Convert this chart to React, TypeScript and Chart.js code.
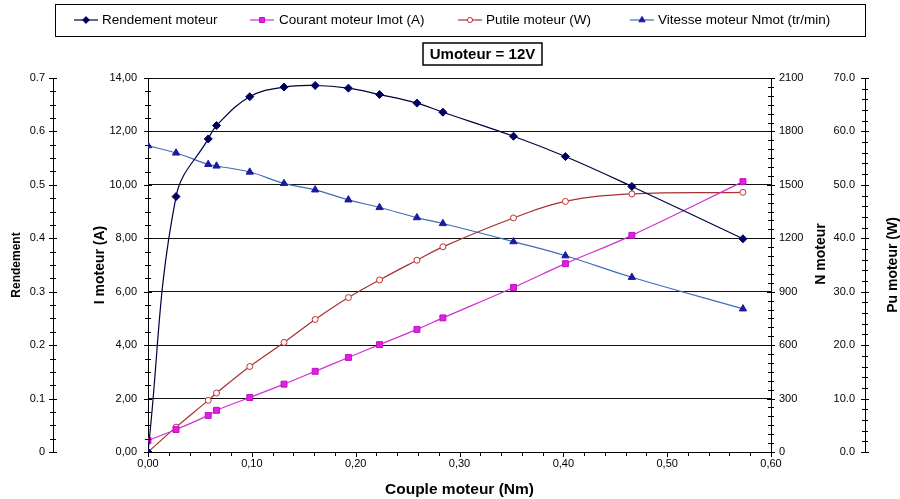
import React, { useEffect, useRef } from 'react';
import { Chart, registerables } from 'chart.js';

Chart.register(...registerables);

// ---- data ----
const couple = [0, 0.027, 0.058, 0.066, 0.098, 0.131, 0.161, 0.193, 0.223, 0.259, 0.284, 0.352, 0.402, 0.466, 0.573];
const rendement = [0, 0.478, 0.586, 0.611, 0.665, 0.683, 0.686, 0.681, 0.669, 0.653, 0.636, 0.591, 0.553, 0.497, 0.399];
const courant = [0.43, 0.84, 1.37, 1.56, 2.04, 2.54, 3.02, 3.54, 4.02, 4.59, 5.02, 6.16, 7.05, 8.11, 10.12];
const putile = [0, 4.65, 9.67, 11.04, 16.0, 20.5, 24.8, 28.9, 32.2, 35.9, 38.4, 43.8, 46.9, 48.3, 48.6];
const vitesse = [1720, 1679, 1615, 1606, 1572, 1508, 1472, 1416, 1373, 1316, 1283, 1181, 1102, 981, 804];

const legendLabels = ['Rendement moteur', 'Courant moteur Imot (A)', 'Putile moteur (W)', 'Vitesse moteur Nmot (tr/min)'];
const boxTitle = 'Umoteur = 12V';
const xTitle = 'Couple moteur (Nm)';
const yTitleR = 'Rendement';
const yTitleI = 'I moteur (A)';
const yTitleN = 'N moteur';
const yTitleP = 'Pu moteur (W)';

const FONT = "'Liberation Sans', Arial, Helvetica, sans-serif";

const seriesStyle = [
  { axis: 'yR', line: '#000040', fill: '#000060', stroke: '#000060', pointStyle: 'rectRot', r: 4 },
  { axis: 'yI', line: '#D030D0', fill: '#E020E0', stroke: '#C010C0', pointStyle: 'rect', r: 4.2 },
  { axis: 'yP', line: '#A83030', fill: '#FFFFFF', stroke: '#C03030', pointStyle: 'circle', r: 3 },
  { axis: 'yN', line: '#3E6DB8', fill: '#1A1AA0', stroke: '#1A1AA0', pointStyle: 'triangle', r: 4.2 },
];
const seriesValues = [rendement, courant, putile, vitesse];

const tickCfg: Record<string, { minor: number; major: number }> = {
  x: { minor: 0.02, major: 0.1 },
  yR: { minor: 0.025, major: 0.1 },
  yI: { minor: 0.5, major: 2 },
  yN: { minor: 50, major: 300 },
  yP: { minor: 2, major: 10 },
};

function drawMarker(ctx: CanvasRenderingContext2D, style: string, x: number, y: number, r: number, fill: string, stroke: string) {
  ctx.beginPath();
  if (style === 'rectRot') {
    ctx.moveTo(x, y - r); ctx.lineTo(x + r, y); ctx.lineTo(x, y + r); ctx.lineTo(x - r, y); ctx.closePath();
  } else if (style === 'rect') {
    const s = r * Math.SQRT1_2;
    ctx.rect(x - s, y - s, 2 * s, 2 * s);
  } else if (style === 'circle') {
    ctx.arc(x, y, r, 0, Math.PI * 2);
  } else {
    ctx.moveTo(x, y - r); ctx.lineTo(x + r * 0.87, y + r * 0.5); ctx.lineTo(x - r * 0.87, y + r * 0.5); ctx.closePath();
  }
  ctx.fillStyle = fill; ctx.fill();
  ctx.strokeStyle = stroke; ctx.lineWidth = 1; ctx.stroke();
}

const tickPlugin = {
  id: 'axisTicks',
  afterDraw(chart: any) {
    const ctx: CanvasRenderingContext2D = chart.ctx;
    ctx.save();
    ctx.strokeStyle = '#000';
    ctx.lineWidth = 1;
    Object.keys(tickCfg).forEach((id) => {
      const sc = chart.scales[id];
      if (!sc) return;
      const { minor, major } = tickCfg[id];
      const n = Math.round((sc.max - sc.min) / minor);
      for (let i = 0; i <= n; i++) {
        const v = sc.min + i * minor;
        const isMajor = Math.abs(v / major - Math.round(v / major)) < 1e-6;
        const p = Math.round(sc.getPixelForValue(v)) + 0.5;
        ctx.beginPath();
        if (id === 'x') {
          const b = Math.round(chart.chartArea.bottom);
          ctx.moveTo(p, b); ctx.lineTo(p, b + (isMajor ? 5 : 4));
        } else {
          const ax = Math.round(sc.position === 'left' ? sc.right : sc.left);
          const len = isMajor ? 4 : 3;
          ctx.moveTo(ax - len, p); ctx.lineTo(ax + len, p);
        }
        ctx.stroke();
      }
    });
    ctx.restore();
  },
};

const decorPlugin = {
  id: 'decor',
  beforeDraw(chart: any) {
    const ctx: CanvasRenderingContext2D = chart.ctx;
    ctx.save();
    ctx.fillStyle = '#fff';
    ctx.fillRect(0, 0, chart.width, chart.height);
    ctx.restore();
  },
  afterDraw(chart: any) {
    const ctx: CanvasRenderingContext2D = chart.ctx;
    ctx.save();
    // legend box
    ctx.strokeStyle = '#000';
    ctx.lineWidth = 1;
    ctx.strokeRect(55.5, 4.5, 810, 32);
    const sampleX = [74, 250, 458, 630];
    const textX = [102, 279, 486, 658];
    const ly = 20;
    ctx.font = `13.5px ${FONT}`;
    ctx.textBaseline = 'middle';
    ctx.textAlign = 'left';
    legendLabels.forEach((lab, i) => {
      const st = seriesStyle[i];
      ctx.strokeStyle = st.line;
      ctx.lineWidth = 1.2;
      ctx.beginPath();
      ctx.moveTo(sampleX[i], ly); ctx.lineTo(sampleX[i] + 24, ly);
      ctx.stroke();
      drawMarker(ctx, st.pointStyle, sampleX[i] + 12, ly, st.r * 0.85, st.fill, st.stroke);
      ctx.fillStyle = '#000';
      ctx.fillText(lab, textX[i], ly);
    });
    // title box
    ctx.strokeStyle = '#000';
    ctx.lineWidth = 1.5;
    ctx.strokeRect(423, 43, 119, 22);
    ctx.font = `bold 15px ${FONT}`;
    ctx.textAlign = 'center';
    ctx.fillStyle = '#000';
    ctx.fillText(boxTitle, 482.5, 54.5);
    // right axis titles (read bottom-to-top)
    const ca = chart.chartArea;
    const midY = (ca.top + ca.bottom) / 2;
    const yN = chart.scales.yN;
    const yP = chart.scales.yP;
    ctx.font = `bold 14px ${FONT}`;
    [[yTitleN, yN.left + 50, midY - 11], [yTitleP, yP.left + 28, midY]].forEach(([t, x, y]: any) => {
      ctx.save();
      ctx.translate(x, y);
      ctx.rotate(-Math.PI / 2);
      ctx.fillText(t, 0, 0);
      ctx.restore();
    });
    ctx.restore();
  },
};

const tickFont = { size: 11, family: FONT };

export default function App() {
  const ref = useRef<HTMLCanvasElement>(null);
  useEffect(() => {
    const canvas = ref.current!;
    const datasets = seriesStyle.map((st, i) => ({
      label: legendLabels[i],
      data: couple.map((x, k) => ({ x, y: seriesValues[i][k] })),
      yAxisID: st.axis,
      borderColor: st.line,
      backgroundColor: st.fill,
      pointBackgroundColor: st.fill,
      pointBorderColor: st.stroke,
      pointBorderWidth: 1,
      pointStyle: st.pointStyle,
      pointRadius: st.r,
      borderWidth: 1.2,
      tension: 0.4,
      fill: false,
    }));
    const chart = new Chart(canvas, {
      type: 'line',
      data: { datasets } as any,
      options: {
        responsive: false,
        animation: false,
        events: [],
        layout: { padding: { top: 78, left: 0, right: 0, bottom: 0 } },
        plugins: { legend: { display: false }, tooltip: { enabled: false }, title: { display: false } },
        scales: {
          x: {
            type: 'linear',
            position: 'bottom',
            min: 0,
            max: 0.6,
            ticks: {
              stepSize: 0.1,
              autoSkip: false,
              maxRotation: 0,
              padding: 5,
              color: '#000',
              font: tickFont,
              callback: (v: any) => Number(v).toFixed(2).replace('.', ','),
            },
            grid: { drawOnChartArea: false, drawTicks: false },
            border: { display: true, color: '#000', width: 1 },
            title: { display: true, text: xTitle, color: '#000', font: { size: 15.5, weight: 'bold', family: FONT }, padding: { top: 0, bottom: 0 } },
            afterFit: (s: any) => { s.height = 47; },
          },
          yI: {
            type: 'linear',
            position: 'left',
            weight: 1,
            min: 0,
            max: 14,
            ticks: {
              stepSize: 2,
              padding: 11,
              color: '#000',
              font: tickFont,
              callback: (v: any) => Number(v).toFixed(2).replace('.', ','),
            },
            grid: { drawTicks: false, color: '#111', lineWidth: 1 },
            border: { display: true, color: '#000', width: 1 },
            title: { display: true, text: yTitleI, color: '#000', font: { size: 14, weight: 'bold', family: FONT }, padding: { top: 38.6, bottom: 0 } },
            afterFit: (s: any) => { s.width = 95; },
          },
          yR: {
            type: 'linear',
            position: 'left',
            weight: 2,
            min: 0,
            max: 0.7,
            ticks: {
              stepSize: 0.1,
              padding: 8,
              color: '#000',
              font: tickFont,
              callback: (v: any) => (Number(v) === 0 ? '0' : Number(v).toFixed(1)),
            },
            grid: { drawOnChartArea: false, drawTicks: false },
            border: { display: true, color: '#000', width: 1 },
            title: { display: true, text: yTitleR, color: '#000', font: { size: 12, weight: 'bold', family: FONT }, padding: { top: 9, bottom: 0 } },
            afterFit: (s: any) => { s.width = 53; },
          },
          yN: {
            type: 'linear',
            position: 'right',
            weight: 1,
            min: 0,
            max: 2100,
            ticks: {
              stepSize: 300,
              padding: 8,
              color: '#000',
              font: tickFont,
              callback: (v: any) => String(Math.round(Number(v))),
            },
            grid: { drawOnChartArea: false, drawTicks: false },
            border: { display: true, color: '#000', width: 1 },
            afterFit: (s: any) => { s.width = 94; },
          },
          yP: {
            type: 'linear',
            position: 'right',
            weight: 2,
            min: 0,
            max: 70,
            ticks: {
              stepSize: 10,
              mirror: true,
              padding: -10,
              color: '#000',
              font: tickFont,
              callback: (v: any) => Number(v).toFixed(1),
            },
            grid: { drawOnChartArea: false, drawTicks: false },
            border: { display: true, color: '#000', width: 1 },
            afterFit: (s: any) => { s.width = 35; },
          },
        } as any,
      },
      plugins: [decorPlugin, tickPlugin],
    } as any);
    return () => chart.destroy();
  }, []);
  return (
    <div style={{ position: 'fixed', left: 0, top: 0, width: 900, height: 499, background: '#fff' }}>
      <canvas ref={ref} width={900} height={499} style={{ display: 'block', width: 900, height: 499 }} />
    </div>
  );
}
